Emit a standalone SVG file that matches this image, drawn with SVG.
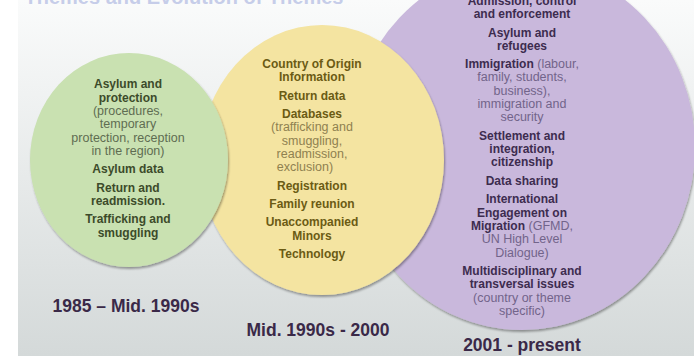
<svg xmlns="http://www.w3.org/2000/svg" width="694" height="356" viewBox="0 0 694 356">
<defs>
<linearGradient id="bg" x1="0" y1="0" x2="0" y2="1">
<stop offset="0" stop-color="#fafbfb"/>
<stop offset="1" stop-color="#d4d9d9"/>
</linearGradient>
<filter id="sh" x="-10%" y="-10%" width="120%" height="120%">
<feDropShadow dx="1" dy="2" stdDeviation="1.2" flood-color="#000" flood-opacity="0.35"/>
</filter>
<style>
text{font-family:"Liberation Sans",Arial,sans-serif;text-anchor:middle}
.b{font-weight:bold;font-size:12px}
.r{font-size:12.5px}
.g .b{fill:#3c4b2a}.g .r{fill:#5f6d51}
.y .b{fill:#6b5b14}.y .r{fill:#8f8150}
.p .b{fill:#3d2c4f}.p .r{fill:#72648a}
.yr{font-weight:bold;font-size:17.5px;fill:#3a2948}
</style>
</defs>
<rect x="0" y="0" width="694" height="356" fill="#ffffff"/>
<rect x="18" y="0" width="676" height="356" fill="url(#bg)"/>
<text x="184" y="4" style="font-weight:bold;font-size:20px;fill:#c6cde9">Themes and Evolution of Themes</text>
<g id="node-2001-present" class="p">
<ellipse cx="522" cy="147" rx="173" ry="183" fill="#c9b8dc" filter="url(#sh)"/>
<text class="b" x="522" y="5">Admission, control</text>
<text class="b" x="522" y="18">and enforcement</text>
<text class="b" x="522" y="37">Asylum and</text>
<text class="b" x="522" y="50">refugees</text>
<text x="522" y="68"><tspan class="b">Immigration</tspan><tspan class="r"> (labour,</tspan></text>
<text class="r" x="522" y="81">family, students,</text>
<text class="r" x="522" y="95">business),</text>
<text class="r" x="522" y="108">immigration and</text>
<text class="r" x="522" y="121">security</text>
<text class="b" x="522" y="140">Settlement and</text>
<text class="b" x="522" y="153">integration,</text>
<text class="b" x="522" y="166">citizenship</text>
<text class="b" x="522" y="185">Data sharing</text>
<text class="b" x="522" y="203">International</text>
<text class="b" x="522" y="217">Engagement on</text>
<text x="522" y="230"><tspan class="b">Migration</tspan><tspan class="r"> (GFMD,</tspan></text>
<text class="r" x="522" y="243">UN High Level</text>
<text class="r" x="522" y="257">Dialogue)</text>
<text class="b" x="522" y="275">Multidisciplinary and</text>
<text class="b" x="522" y="288">transversal issues</text>
<text class="r" x="522" y="302">(country or theme</text>
<text class="r" x="522" y="315">specific)</text>
</g>
<g id="node-mid1990s-2000" class="y">
<ellipse cx="322" cy="160" rx="122" ry="135" fill="#f4e4a1" filter="url(#sh)"/>
<text class="b" x="312" y="68">Country of Origin</text>
<text class="b" x="312" y="81">Information</text>
<text class="b" x="312" y="100">Return data</text>
<text class="b" x="312" y="118">Databases</text>
<text class="r" x="312" y="131">(trafficking and</text>
<text class="r" x="312" y="145">smuggling,</text>
<text class="r" x="312" y="158">readmission,</text>
<text class="r" x="305" y="171">exclusion)</text>
<text class="b" x="312" y="190">Registration</text>
<text class="b" x="312" y="208">Family reunion</text>
<text class="b" x="312" y="226">Unaccompanied</text>
<text class="b" x="312" y="240">Minors</text>
<text class="b" x="312" y="258">Technology</text>
</g>
<g id="node-1985-mid1990s" class="g">
<ellipse cx="129" cy="160" rx="99" ry="107" fill="#c9e1b1" filter="url(#sh)"/>
<text class="b" x="128" y="88">Asylum and</text>
<text class="b" x="128" y="102">protection</text>
<text class="r" x="128" y="115">(procedures,</text>
<text class="r" x="128" y="128">temporary</text>
<text class="r" x="128" y="142">protection, reception</text>
<text class="r" x="128" y="155">in the region)</text>
<text class="b" x="128" y="173">Asylum data</text>
<text class="b" x="128" y="192">Return and</text>
<text class="b" x="128" y="205">readmission.</text>
<text class="b" x="128" y="223">Trafficking and</text>
<text class="b" x="128" y="237">smuggling</text>
</g>
<g id="labels">
<text class="yr" x="126" y="312">1985 – Mid. 1990s</text>
<text class="yr" x="318" y="336">Mid. 1990s - 2000</text>
<text class="yr" x="522" y="351">2001 - present</text>
</g>
</svg>
